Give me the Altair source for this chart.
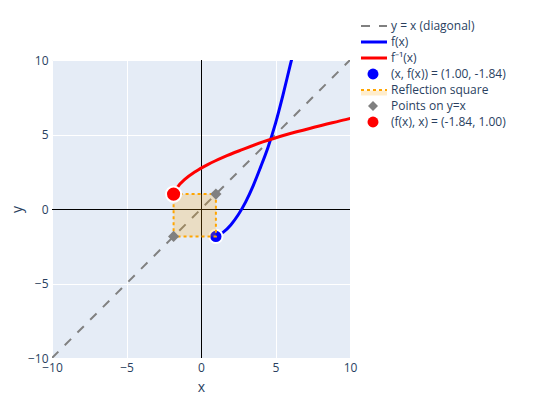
import altair as alt
import pandas as pd

# ---------------- data ----------------
f_x = [1.0, 1.5, 2.0, 2.5, 3.0, 3.5, 4.0, 4.5, 5.0, 5.5, 6.0, 6.2]
f_y = [-1.84, -1.55, -1.07, -0.39, 0.48, 1.55, 2.81, 4.15, 5.75, 7.65, 9.7, 10.5]
diag_x = [-10, 10]
diag_y = [-10, 10]
point_x = [1.0]
point_y = [-1.84]
inv_point_x = [-1.84]
inv_point_y = [1.0]
square_x = [-1.84]
square_x2 = [1.0]
square_y = [-1.84]
square_y2 = [1.0]
diamond_x = [1.0, -1.84]
diamond_y = [1.0, -1.84]
tick_values = [-10, -5, 0, 5, 10]
legend_labels = [
    "y = x (diagonal)",
    "f(x)",
    "f\u207b\u00b9(x)",
    "(x, f(x)) = (1.00, -1.84)",
    "Reflection square",
    "Points on y=x",
    "(f(x), x) = (-1.84, 1.00)",
]

FONT = "Open Sans"
TXT = "#2a3f5f"

df_f = pd.DataFrame({"x": f_x, "y": f_y})
df_inv = pd.DataFrame({"x": f_y, "y": f_x})
df_diag = pd.DataFrame({"x": diag_x, "y": diag_y})
df_pt = pd.DataFrame({"x": point_x, "y": point_y})
df_ipt = pd.DataFrame({"x": inv_point_x, "y": inv_point_y})
df_sq = pd.DataFrame({"x": square_x, "x2": square_x2, "y": square_y, "y2": square_y2})
df_dm = pd.DataFrame({"x": diamond_x, "y": diamond_y})
df_zero = pd.DataFrame({"x": [0], "y": [0]})

common_axis = dict(
    values=tick_values, grid=True, gridColor="white", gridWidth=1,
    domain=False, ticks=False, labelFlush=False,
    labelExpr="replace(datum.label, '-', '\u2212')",
    labelFont=FONT, labelFontSize=12, labelColor=TXT,
    titleFont=FONT, titleFontSize=14, titleFontWeight="normal", titleColor=TXT,
)
sx = alt.Scale(domain=[-10, 10], nice=False, zero=False)
sy = alt.Scale(domain=[-10, 10], nice=False, zero=False)
X = alt.X("x:Q", scale=sx, axis=alt.Axis(title="x", labelPadding=4, titlePadding=7, **common_axis))
Y = alt.Y("y:Q", scale=sy, axis=alt.Axis(title="y", labelPadding=4, titlePadding=3, **common_axis))

vzero = alt.Chart(df_zero).mark_rule(color="black", strokeWidth=1, xOffset=0.5).encode(x=X)
hzero = alt.Chart(df_zero).mark_rule(color="black", strokeWidth=1, yOffset=0.5).encode(y=Y)
diag = alt.Chart(df_diag).mark_line(color="gray", strokeWidth=2, strokeDash=[9, 9], clip=True).encode(x=X, y=Y)
fline = alt.Chart(df_f).mark_line(color="blue", strokeWidth=3, interpolate="monotone", clip=True).encode(x=X, y=Y, order="x:Q")
iline = alt.Chart(df_inv).mark_line(color="red", strokeWidth=3, interpolate="monotone", clip=True).encode(x=X, y=Y, order="x:Q")
pt = alt.Chart(df_pt).mark_point(shape="circle", filled=True, size=175, color="blue", stroke="white", strokeWidth=2, opacity=1).encode(x=X, y=Y)
sq = alt.Chart(df_sq).mark_rect(fill="orange", fillOpacity=0.2, stroke="orange", strokeWidth=2, strokeDash=[3, 3]).encode(
    x=X, x2="x2:Q", y=Y, y2="y2:Q")
dm = alt.Chart(df_dm).mark_point(shape="diamond", filled=True, size=125, color="gray", opacity=1).encode(x=X, y=Y)
ipt = alt.Chart(df_ipt).mark_point(shape="circle", filled=True, size=230, color="red", stroke="white", strokeWidth=2, opacity=1).encode(x=X, y=Y)

main = alt.layer(vzero, hzero, diag, fline, iline, pt, sq, dm, ipt)

# ---------------- legend ----------------
df_leg = pd.DataFrame({"idx": list(range(len(legend_labels))), "label": legend_labels})
LY = alt.Y("idx:Q", scale=alt.Scale(domain=[0, 6], range=[-34, 62], zero=False, nice=False), axis=None)
lx0, lx1, lxc, ltx = 309, 335, 321, 339

def rows(i):
    return alt.Chart(df_leg[df_leg.idx.isin(i)])

leg_diag = rows([0]).mark_rule(color="gray", strokeWidth=2, strokeDash=[9, 9]).encode(x=alt.value(lx0), x2=alt.value(lx1), y=LY)
leg_f = rows([1]).mark_rule(color="blue", strokeWidth=3).encode(x=alt.value(lx0), x2=alt.value(lx1), y=LY)
leg_i = rows([2]).mark_rule(color="red", strokeWidth=3).encode(x=alt.value(lx0), x2=alt.value(lx1), y=LY)
leg_pt = rows([3]).mark_point(shape="circle", filled=True, size=120, color="blue", opacity=1).encode(x=alt.value(lxc), y=LY)
leg_sqf = rows([4]).mark_rule(color="orange", strokeWidth=5, opacity=0.2, yOffset=3).encode(x=alt.value(lx0), x2=alt.value(lx1), y=LY)
leg_sq = rows([4]).mark_rule(color="orange", strokeWidth=2, strokeDash=[3, 3]).encode(x=alt.value(lx0), x2=alt.value(lx1), y=LY)
leg_dm = rows([5]).mark_point(shape="diamond", filled=True, size=100, color="gray", opacity=1).encode(x=alt.value(lxc), y=LY)
leg_ipt = rows([6]).mark_point(shape="circle", filled=True, size=120, color="red", opacity=1).encode(x=alt.value(lxc), y=LY)
leg_txt = alt.Chart(df_leg).mark_text(align="left", baseline="middle", font=FONT, fontSize=12, color=TXT).encode(
    x=alt.value(ltx), y=LY, text="label:N")

legend = alt.layer(leg_diag, leg_f, leg_i, leg_pt, leg_sqf, leg_sq, leg_dm, leg_ipt, leg_txt)

chart = alt.layer(main, legend).resolve_scale(x="independent", y="independent").properties(
    width=298, height=298,
    autosize=alt.AutoSizeParams(type="none"),
    padding={"left": 44, "top": 52, "right": 180, "bottom": 36},
    background="white",
).configure_view(fill="#E5ECF6", stroke=None)

chart.save("out.html", embed_options={"renderer": "svg", "actions": False})
